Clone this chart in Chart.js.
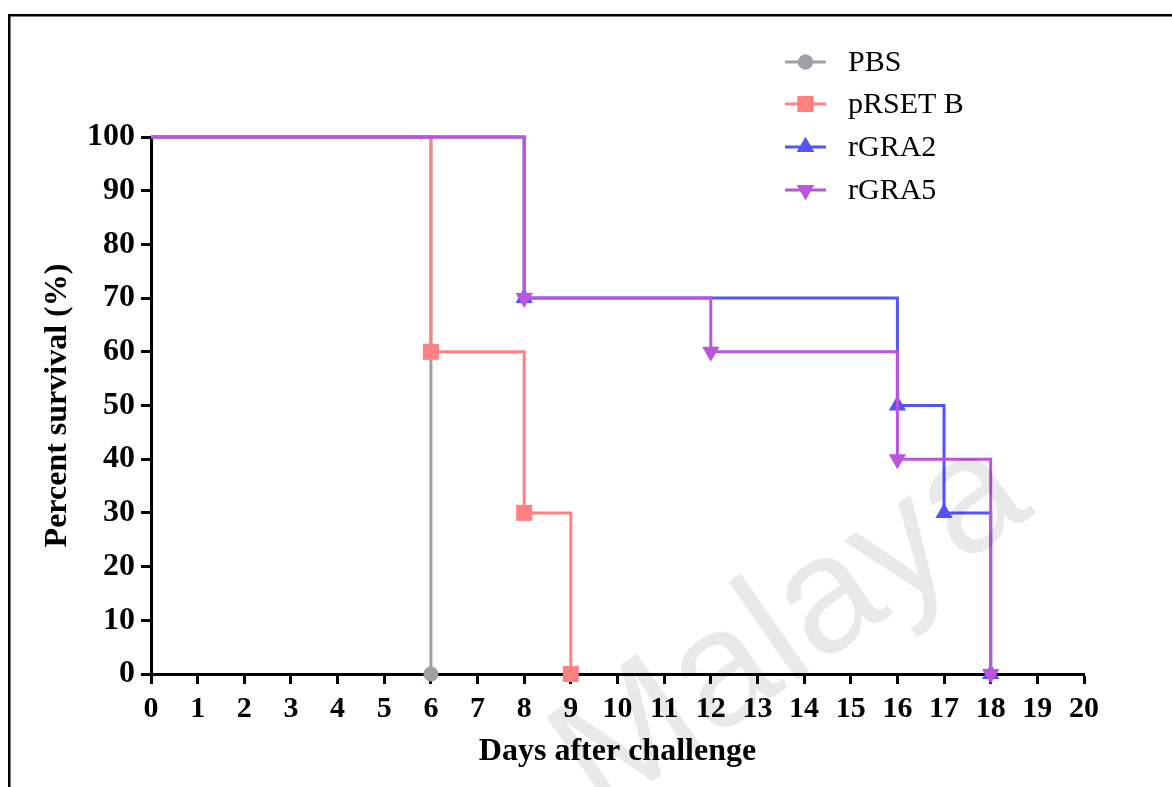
<!DOCTYPE html>
<html><head><meta charset="utf-8">
<script src="https://cdn.jsdelivr.net/npm/chart.js@4.4.0/dist/chart.umd.min.js"></script>
<style>html,body{margin:0;padding:0;background:#fff;overflow:hidden}#wrap{width:1172px;height:787px;position:relative}</style>
</head><body><div id="wrap"><canvas id="c" width="1172" height="787"></canvas></div>
<script>
// ---- data ----
const seriesNames = ['PBS', 'pRSET B', 'rGRA2', 'rGRA5'];
const pbsDays = [0, 6];
const pbsSurvival = [100, 0];
const prsetDays = [0, 6, 8, 9];
const prsetSurvival = [100, 60, 30, 0];
const gra2Days = [0, 8, 16, 17, 18];
const gra2Survival = [100, 70, 50, 30, 0];
const gra5Days = [0, 8, 12, 16, 18];
const gra5Survival = [100, 70, 60, 40, 0];
const xTitle = 'Days after challenge';
const yTitle = 'Percent survival (%)';
const watermarkText = 'Malaya';

// ---- styles ----
const colors = ['#a0a0a6', '#ff8080', '#5353ff', '#bb55dd'];
const styles = [
  {pointStyle: 'circle', radius: 7.5, rotation: 0},
  {pointStyle: 'rect', radius: 11.3, rotation: 0},
  {pointStyle: 'triangle', radius: 10, rotation: 0},
  {pointStyle: 'triangle', radius: 10, rotation: 180}
];
const serif = '"Liberation Serif", "Times New Roman", serif';

function toPts(xs, ys) { return xs.map((x, i) => ({x: x, y: ys[i]})); }
const allData = [toPts(pbsDays, pbsSurvival), toPts(prsetDays, prsetSurvival),
                 toPts(gra2Days, gra2Survival), toPts(gra5Days, gra5Survival)];

const datasets = allData.map((d, i) => ({
  label: seriesNames[i],
  data: d,
  stepped: 'before',
  borderColor: colors[i],
  backgroundColor: colors[i],
  borderWidth: 3,
  pointStyle: styles[i].pointStyle,
  pointRotation: styles[i].rotation,
  pointRadius: ctx => ctx.dataIndex === 0 ? 0 : styles[i].radius,
  pointBorderWidth: 0,
  pointBackgroundColor: colors[i],
  fill: false,
  clip: false,
  order: 4 - i
}));

const framePlugin = {
  id: 'frame',
  beforeDraw(chart) {
    const ctx = chart.ctx;
    ctx.save();
    ctx.fillStyle = '#fff';
    ctx.fillRect(0, 0, chart.width, chart.height);
    ctx.fillStyle = '#000';
    ctx.fillRect(8, 14, 1164, 2.5);
    ctx.fillRect(8, 14, 2.5, 773);
    ctx.restore();
  }
};

const legendPlugin = {
  id: 'customLegend',
  afterDraw(chart) {
    const ctx = chart.ctx;
    const rows = [62, 104, 147, 190];
    ctx.save();
    seriesNames.forEach((name, i) => {
      const y = rows[i];
      ctx.strokeStyle = colors[i];
      ctx.lineWidth = 3;
      ctx.beginPath();
      ctx.moveTo(785, y);
      ctx.lineTo(826, y);
      ctx.stroke();
      ctx.fillStyle = colors[i];
      Chart.helpers.drawPoint(ctx, {pointStyle: styles[i].pointStyle, radius: styles[i].radius, rotation: styles[i].rotation, borderWidth: 0}, 805.5, y);
      ctx.fill();
      ctx.fillStyle = '#000';
      ctx.font = '30px ' + serif;
      ctx.textBaseline = 'middle';
      ctx.textAlign = 'left';
      ctx.fillText(name, 848, y + 1);
    });
    ctx.restore();
  }
};

const watermarkPlugin = {
  id: 'watermark',
  afterDraw(chart) {
    const ctx = chart.ctx;
    ctx.save();
    ctx.translate(792, 628);
    ctx.rotate(-35 * Math.PI / 180);
    ctx.font = '165px "Liberation Sans", Arial, sans-serif';
    ctx.fillStyle = 'rgba(0,0,0,0.085)';
    ctx.textAlign = 'center';
    ctx.textBaseline = 'middle';
    ctx.fillText(watermarkText, 0, 0);
    ctx.restore();
  }
};

new Chart(document.getElementById('c'), {
  type: 'line',
  data: {datasets: datasets},
  options: {
    responsive: false,
    animation: false,
    devicePixelRatio: 1,
    events: [],
    layout: {padding: {left: 0, right: 88, top: 137, bottom: 0}},
    plugins: {legend: {display: false}, tooltip: {enabled: false}},
    scales: {
      x: {
        type: 'linear', min: 0, max: 20,
        afterFit: s => { s.height = 113; },
        ticks: {stepSize: 1, autoSkip: false, maxRotation: 0, color: '#000', padding: 7,
                font: {family: serif, size: 30, weight: 'bold'}},
        grid: {drawOnChartArea: false, drawTicks: true, tickLength: 10, tickWidth: 3, tickColor: '#000'},
        border: {display: true, width: 3, color: '#000'},
        title: {display: true, text: xTitle, color: '#000', padding: {top: 0, bottom: 16},
                font: {family: serif, size: 32, weight: 'bold'}}
      },
      y: {
        type: 'linear', min: 0, max: 100,
        afterFit: s => { s.width = 151; },
        ticks: {stepSize: 10, color: '#000', padding: 6,
                font: {family: serif, size: 32, weight: 'bold'}},
        grid: {drawOnChartArea: false, drawTicks: true, tickLength: 10, tickWidth: 3, tickColor: '#000'},
        border: {display: true, width: 3, color: '#000'},
        title: {display: true, text: yTitle, color: '#000', padding: {top: 39, bottom: 0},
                font: {family: serif, size: 32, weight: 'bold'}}
      }
    }
  },
  plugins: [framePlugin, legendPlugin, watermarkPlugin]
});
</script></body></html>
